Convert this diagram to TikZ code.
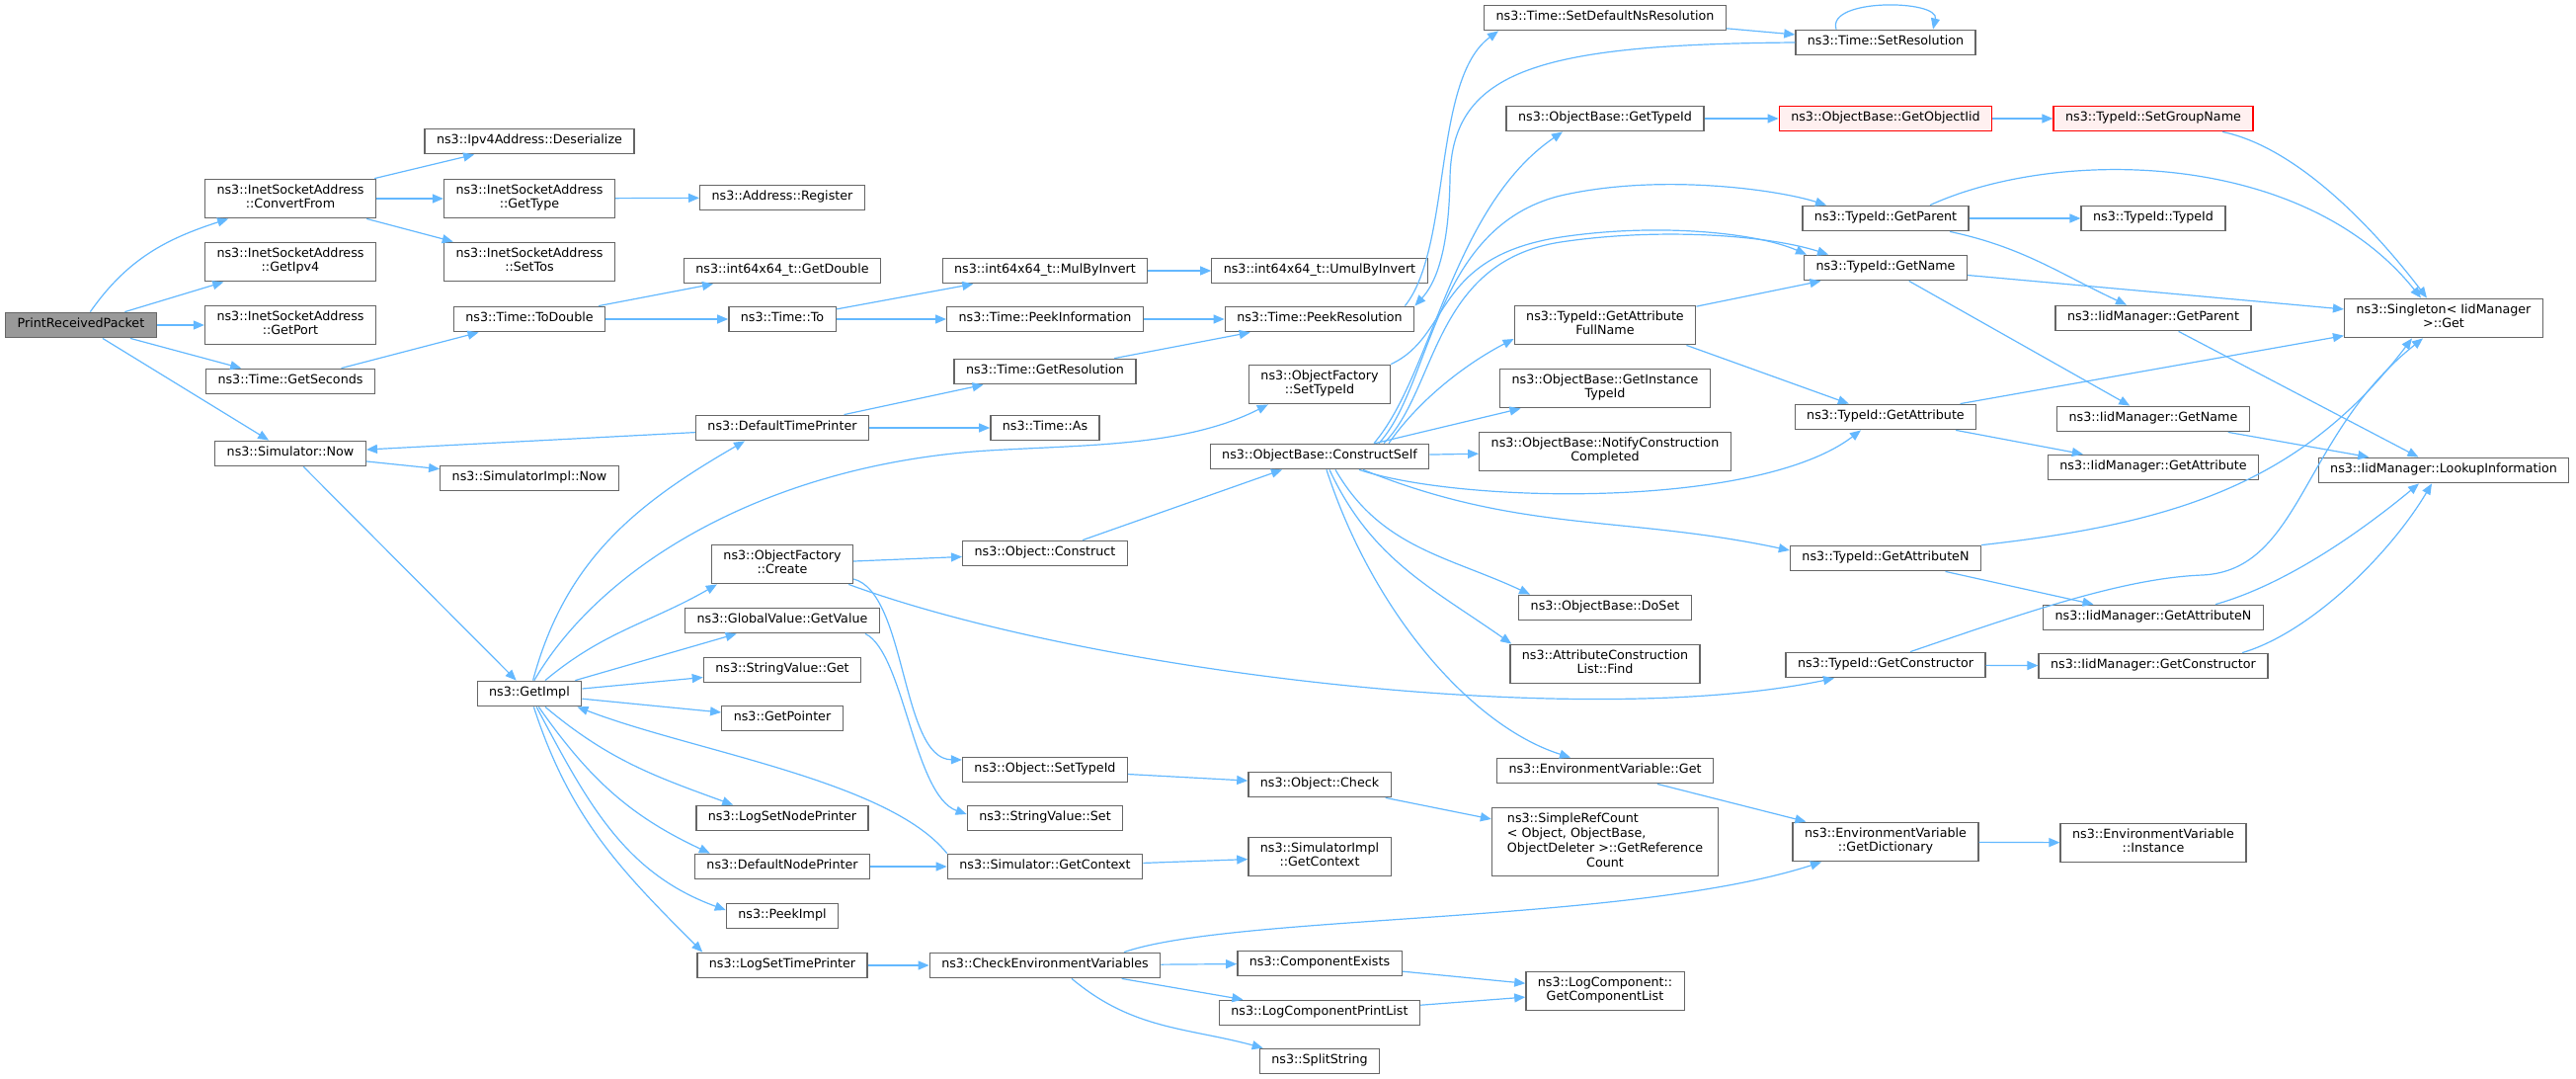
\documentclass[tikz,border=0pt]{standalone}
\usepackage{fontspec}
\setmainfont{DejaVu Sans}
\usepackage{xcolor}
\usepackage{tikz}
\usetikzlibrary{arrows.meta}
\definecolor{edgeblue}{HTML}{63B8FF}
\definecolor{boxgray}{HTML}{666666}
\tikzstyle{block} = [rectangle, draw=boxgray, fill=white, line width=1.3pt, align=center,
    inner xsep=12pt, inner ysep=5.4pt, minimum height=25.5pt,
    execute at begin node=\strut, execute at end node=\strut]
\tikzstyle{rootblock} = [block, fill=black!40]
\tikzstyle{redblock} = [block, draw=red, fill=red!6]
\tikzstyle{line} = [draw=edgeblue, line width=1.2pt, -{Triangle[length=11pt,width=9pt]}]

\begin{document}
\begin{tikzpicture}[x=1pt, y=-1pt, node distance=50pt, font=\fontsize{12.7}{14.7}\selectfont]
    \useasboundingbox (0,0) rectangle (2608,1092);
    % Place nodes
    \node [rootblock] (prp) at (82,329) {PrintReceivedPacket};
    \node [block, right of=prp, node distance=212pt] (getport) {ns3::InetSocketAddress\\::GetPort};
    \node [block, above of=getport, node distance=64pt] (getipv4) {ns3::InetSocketAddress\\::GetIpv4};
    \node [block, above of=getipv4, node distance=64pt] (convfrom) {ns3::InetSocketAddress\\::ConvertFrom};
    \node [block, below of=getport, node distance=57pt] (getseconds) {ns3::Time::GetSeconds};
    \node [block, below of=getseconds, node distance=73pt] (simnow) {ns3::Simulator::Now};

    \node [block, right of=convfrom, node distance=242pt] (gettype) {ns3::InetSocketAddress\\::GetType};
    \node [block, above of=gettype, node distance=58pt] (deserialize) {ns3::Ipv4Address::Deserialize};
    \node [block, below of=gettype, node distance=64pt] (settos) {ns3::InetSocketAddress\\::SetTos};
    \node [block, below of=settos, node distance=58pt] (todouble) {ns3::Time::ToDouble};
    \node [block, below of=todouble, node distance=161pt] (simimplnow) {ns3::SimulatorImpl::Now};
    \node [block, below of=simimplnow, node distance=218pt] (getimpl) {ns3::GetImpl};

    \node [block, right of=todouble, node distance=256pt] (timeto) {ns3::Time::To};
    \node [block, above of=timeto, node distance=49pt] (getdouble) {ns3::int64x64\_t::GetDouble};
    \node [block, above of=getdouble, node distance=74pt] (register) {ns3::Address::Register};
    \node [block, below of=timeto, node distance=110pt] (deftimeprinter) {ns3::DefaultTimePrinter};
    \node [block, below of=deftimeprinter, node distance=138pt] (factcreate) {ns3::ObjectFactory\\::Create};
    \node [block, below of=factcreate, node distance=57pt] (getvalue) {ns3::GlobalValue::GetValue};
    \node [block, below of=getvalue, node distance=50pt] (svget) {ns3::StringValue::Get};
    \node [block, below of=svget, node distance=49pt] (getpointer) {ns3::GetPointer};
    \node [block, below of=getpointer, node distance=101pt] (logsetnodeprinter) {ns3::LogSetNodePrinter};
    \node [block, below of=logsetnodeprinter, node distance=49pt] (defnodeprinter) {ns3::DefaultNodePrinter};
    \node [block, below of=defnodeprinter, node distance=50pt] (peekimpl) {ns3::PeekImpl};
    \node [block, below of=peekimpl, node distance=50pt] (logsettimeprinter) {ns3::LogSetTimePrinter};

    \node [block, right of=timeto, node distance=266pt] (peekinfo) {ns3::Time::PeekInformation};
    \node [block, above of=peekinfo, node distance=49pt] (mulbyinvert) {ns3::int64x64\_t::MulByInvert};
    \node [block, below of=peekinfo, node distance=53pt] (getres) {ns3::Time::GetResolution};
    \node [block, below of=getres, node distance=57pt] (timeas) {ns3::Time::As};
    \node [block, below of=timeas, node distance=127pt] (objconstruct) {ns3::Object::Construct};
    \node [block, below of=objconstruct, node distance=219pt] (objsettypeid) {ns3::Object::SetTypeId};
    \node [block, below of=objsettypeid, node distance=49pt] (svset) {ns3::StringValue::Set};
    \node [block, below of=svset, node distance=49pt] (simgetcontext) {ns3::Simulator::GetContext};
    \node [block, below of=simgetcontext, node distance=100pt] (checkenv) {ns3::CheckEnvironmentVariables};

    \node [block, right of=peekinfo, node distance=278pt] (peekres) {ns3::Time::PeekResolution};
    \node [block, above of=peekres, node distance=49pt] (umulbyinvert) {ns3::int64x64\_t::UmulByInvert};
    \node [block, below of=peekres, node distance=66pt] (factsettypeid) {ns3::ObjectFactory\\::SetTypeId};
    \node [block, below of=factsettypeid, node distance=73pt] (constructself) {ns3::ObjectBase::ConstructSelf};
    \node [block, below of=constructself, node distance=332pt] (objcheck) {ns3::Object::Check};
    \node [block, below of=objcheck, node distance=73pt] (simimplgetcontext) {ns3::SimulatorImpl\\::GetContext};
    \node [block, below of=simimplgetcontext, node distance=108pt] (compexists) {ns3::ComponentExists};
    \node [block, below of=compexists, node distance=50pt] (logcompprintlist) {ns3::LogComponentPrintList};
    \node [block, below of=logcompprintlist, node distance=49pt] (splitstring) {ns3::SplitString};

    \node [block] (setdefaultns) at (1625,18) {ns3::Time::SetDefaultNsResolution};
    \node [block, below of=setdefaultns, node distance=102pt] (objbasegettypeid) {ns3::ObjectBase::GetTypeId};
    \node [block, below of=objbasegettypeid, node distance=209pt] (getattrfullname) {ns3::TypeId::GetAttribute\\FullName};
    \node [block, below of=getattrfullname, node distance=64pt] (getinstancetypeid) {ns3::ObjectBase::GetInstance\\TypeId};
    \node [block, below of=getinstancetypeid, node distance=64pt] (notifycc) {ns3::ObjectBase::NotifyConstruction\\Completed};
    \node [block, below of=notifycc, node distance=158pt] (doset) {ns3::ObjectBase::DoSet};
    \node [block, below of=doset, node distance=57pt] (find) {ns3::AttributeConstruction\\List::Find};
    \node [block, below of=find, node distance=108pt] (envget) {ns3::EnvironmentVariable::Get};
    \node [block, below of=envget, node distance=72pt, minimum width=229pt] (simplerefcount) {\begin{tabular}{@{}l@{}}ns3::SimpleRefCount\\{\textless} Object, ObjectBase,\\ObjectDeleter {\textgreater}::GetReference\\\multicolumn{1}{@{}c@{}}{Count}\end{tabular}};
    \node [block, below of=simplerefcount, node distance=151pt] (getcomplist) {ns3::LogComponent::\\GetComponentList};

    \node [block] (setres) at (1909,43) {ns3::Time::SetResolution};
    \node [redblock, right of=objbasegettypeid, node distance=284pt] (getobjectiid) {ns3::ObjectBase::GetObjectIid};
    \node [block, below of=getobjectiid, node distance=101pt] (typeidgetparent) {ns3::TypeId::GetParent};
    \node [block, below of=typeidgetparent, node distance=50pt] (typeidgetname) {ns3::TypeId::GetName};
    \node [block, below of=typeidgetname, node distance=151pt] (typeidgetattribute) {ns3::TypeId::GetAttribute};
    \node [block, below of=typeidgetattribute, node distance=143pt] (typeidgetattributen) {ns3::TypeId::GetAttributeN};
    \node [block, below of=typeidgetattributen, node distance=108pt] (typeidgetconstructor) {ns3::TypeId::GetConstructor};
    \node [block, below of=typeidgetconstructor, node distance=179pt] (getdictionary) {ns3::EnvironmentVariable\\::GetDictionary};

    \node [redblock, right of=getobjectiid, node distance=271pt] (setgroupname) {ns3::TypeId::SetGroupName};
    \node [block, below of=setgroupname, node distance=101pt] (typeidtypeid) {ns3::TypeId::TypeId};
    \node [block, below of=typeidtypeid, node distance=101pt] (iidgetparent) {ns3::IidManager::GetParent};
    \node [block, below of=iidgetparent, node distance=102pt] (iidgetname) {ns3::IidManager::GetName};
    \node [block, below of=iidgetname, node distance=49pt] (iidgetattribute) {ns3::IidManager::GetAttribute};
    \node [block, below of=iidgetattribute, node distance=152pt] (iidgetattributen) {ns3::IidManager::GetAttributeN};
    \node [block, below of=iidgetattributen, node distance=49pt] (iidgetconstructor) {ns3::IidManager::GetConstructor};
    \node [block, below of=iidgetconstructor, node distance=179pt] (envinstance) {ns3::EnvironmentVariable\\::Instance};

    \node [block, right of=iidgetparent, node distance=294pt] (singleton) {ns3::Singleton{\textless} IidManager\\{\textgreater}::Get};
    \node [block, below of=singleton, node distance=154pt] (lookup) {ns3::IidManager::LookupInformation};

    % Draw edges
    \path [line] (prp) to[out=55,in=198] (convfrom);
    \path [line] (prp) -- (getipv4);
    \path [line] (prp) -- (getport);
    \path [line] (prp) -- (getseconds);
    \path [line] (prp) -- (simnow);
    \path [line] (convfrom) -- (deserialize);
    \path [line] (convfrom) -- (gettype);
    \path [line] (convfrom) -- (settos);
    \path [line] (gettype) -- (register);
    \path [line] (getseconds) -- (todouble);
    \path [line] (todouble) -- (getdouble);
    \path [line] (todouble) -- (timeto);
    \path [line] (timeto) -- (mulbyinvert);
    \path [line] (timeto) -- (peekinfo);
    \path [line] (mulbyinvert) -- (umulbyinvert);
    \path [line] (peekinfo) -- (peekres);
    \path [line] (getres) -- (peekres);
    \path [line] (deftimeprinter) -- (getres);
    \path [line] (deftimeprinter) -- (timeas);
    \path [line] (deftimeprinter) -- (simnow);
    \path [line] (simnow) -- (simimplnow);
    \path [line] (simnow) -- (getimpl);

    \path [line] (getimpl) to[out=75,in=210] ([xshift=-38pt]deftimeprinter.south);
    \path [line] (getimpl.70) .. controls (610,570) and (780,470) .. (1000,456)
        .. controls (1100,450) and (1200,452) .. ([xshift=20pt]factsettypeid.south west);
    \path [line] (getimpl) to[out=40,in=210] ([xshift=6pt]factcreate.south west);
    \path [line] (getimpl) -- (getvalue);
    \path [line] (getimpl) -- (svget);
    \path [line] (getimpl) -- (getpointer);
    \path [line] (getimpl) to[out=-40,in=160] ([xshift=38pt]logsetnodeprinter.north west);
    \path [line] (getimpl) to[out=-55,in=155] ([xshift=16pt]defnodeprinter.north west);
    \path [line] (getimpl) to[out=-62,in=160] ([yshift=6pt]peekimpl.west);
    \path [line] (getimpl) to[out=-72,in=135] ([xshift=6pt]logsettimeprinter.north west);
    \path [line] (simgetcontext.north west) .. controls (900,790) and (700,760) .. ([xshift=-5pt]getimpl.south east);

    \path [line] (factcreate) -- (objconstruct);
    \path [line] ([yshift=-15pt]factcreate.east) .. controls (918,600) and (912,768) .. ([yshift=10pt]objsettypeid.west);
    \path [line] ([xshift=-5pt]factcreate.south east) .. controls (1100,680) and (1600,740) .. ([xshift=-52pt]typeidgetconstructor.south);
    \path [line] ([xshift=-15pt]getvalue.south east) .. controls (915,660) and (925,805) .. ([yshift=4pt]svset.west);
    \path [line] (objconstruct) -- (constructself);

    \path [line] (factsettypeid.north east) .. controls (1470,340) and (1450,260) .. (1580,240)
        .. controls (1680,225) and (1780,236) .. ([xshift=-80pt]typeidgetname.north);
    \path [line] ([xshift=55pt]constructself.north) .. controls (1450,380) and (1470,210) .. ([xshift=-43pt]objbasegettypeid.south);
    \path [line] ([xshift=60pt]constructself.north) .. controls (1450,390) and (1450,230) .. (1580,198)
        .. controls (1680,175) and (1800,192) .. ([xshift=-60pt]typeidgetparent.north);
    \path [line] ([xshift=65pt]constructself.north) .. controls (1455,395) and (1450,265) .. (1580,245)
        .. controls (1680,230) and (1790,238) .. ([xshift=-58pt]typeidgetname.north);
    \path [line] ([xshift=70pt]constructself.north) .. controls (1440,400) and (1490,365) .. ([yshift=-14pt]getattrfullname.west);
    \path [line] (constructself) -- (getinstancetypeid);
    \path [line] (constructself) -- (notifycc);
    \path [line] ([xshift=40pt]constructself.south) .. controls (1480,510) and (1780,515) .. ([xshift=-25pt]typeidgetattribute.south);
    \path [line] ([xshift=44pt]constructself.south) to[out=-22,in=168] ([yshift=8pt]typeidgetattributen.west);
    \path [line] ([xshift=16pt]constructself.south) to[out=-60,in=155] ([xshift=12pt]doset.north west);
    \path [line] ([xshift=10pt]constructself.south) to[out=-65,in=145] ([xshift=2pt]find.north west);
    \path [line] ([xshift=7pt]constructself.south) .. controls (1390,620) and (1490,735) .. ([xshift=-35pt]envget.north);

    \path [line] (objsettypeid) -- (objcheck);
    \path [line] (objcheck) -- (simplerefcount);
    \path [line] (defnodeprinter) -- (simgetcontext);
    \path [line] (simgetcontext) -- (simimplgetcontext);
    \path [line] (logsettimeprinter) -- (checkenv);
    \path [line] (checkenv) -- (compexists);
    \path [line] (checkenv) -- (logcompprintlist);
    \path [line] ([xshift=27pt]checkenv.south) to[out=-40,in=165] ([xshift=4pt]splitstring.north west);
    \path [line] ([xshift=80pt]checkenv.north) .. controls (1250,925) and (1650,935) .. ([xshift=-65pt]getdictionary.south);
    \path [line] (compexists) -- (getcomplist);
    \path [line] (logcompprintlist) -- (getcomplist);
    \path [line] (envget) -- (getdictionary);
    \path [line] (getdictionary) -- (envinstance);

    \path [line] ([xshift=-10pt]peekres.north east) .. controls (1470,250) and (1450,80) .. ([xshift=15pt]setdefaultns.south west);
    \path [line] (setres.west) .. controls (1560,45) and (1470,70) .. (1468,180)
        .. controls (1467,250) and (1455,285) .. (peekres.north east);
    \path [line] (setdefaultns) -- (setres);
    \path [line] ([xshift=-50pt]setres.north) .. controls ([xshift=-60pt,yshift=32pt]setres.north)
        and ([xshift=55pt,yshift=30pt]setres.north) .. ([xshift=48pt]setres.north);
    \path [line] (objbasegettypeid) -- (getobjectiid);
    \path [line] (getobjectiid) -- (setgroupname);
    \path [line] ([xshift=70pt]setgroupname.south) .. controls (2330,150) and (2410,240) .. ([xshift=-17pt]singleton.north);

    \path [line] ([xshift=45pt]typeidgetparent.north) .. controls (2080,150) and (2330,150) .. ([xshift=-23pt]singleton.north);
    \path [line] (typeidgetparent) -- (typeidtypeid);
    \path [line] ([xshift=65pt]typeidgetparent.south) to[out=-12,in=155] ([xshift=-27pt]iidgetparent.north);
    \path [line] (typeidgetname) -- (singleton);
    \path [line] (typeidgetname) -- (iidgetname);
    \path [line] (getattrfullname) -- (typeidgetname);
    \path [line] ([xshift=-10pt]getattrfullname.south east) -- (typeidgetattribute);
    \path [line] (typeidgetattribute) -- (singleton);
    \path [line] (typeidgetattribute) -- (iidgetattribute);
    \path [line] (typeidgetattributen.north east) .. controls (2200,530) and (2330,490) .. ([xshift=-32pt]singleton.south);
    \path [line] (typeidgetattributen) -- (iidgetattributen);
    \path [line] ([xshift=25pt]typeidgetconstructor.north) .. controls (2050,620) and (2150,585) .. (2230,582)
        .. controls (2330,577) and (2330,440) .. ([xshift=-21pt]singleton.south);
    \path [line] (typeidgetconstructor) -- (iidgetconstructor);
    \path [line] (iidgetparent) -- (lookup);
    \path [line] (iidgetname) -- (lookup);
    \path [line] ([xshift=63pt]iidgetattributen.north) .. controls (2320,590) and (2400,530) .. ([xshift=-25pt]lookup.south);
    \path [line] ([xshift=90pt]iidgetconstructor.north) .. controls (2340,640) and (2420,560) .. ([xshift=-12pt]lookup.south);
\end{tikzpicture}
\end{document}
